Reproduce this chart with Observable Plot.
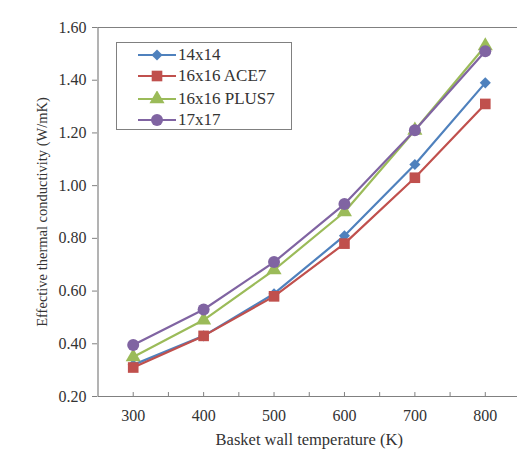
<!DOCTYPE html>
<html>
<head>
<meta charset="utf-8">
<script src="https://cdn.jsdelivr.net/npm/d3@7"></script>
<script src="https://cdn.jsdelivr.net/npm/@observablehq/plot@0.6"></script>
<style>
  html, body { margin: 0; padding: 0; background: #fff; }
  #wrap { position: relative; width: 517px; height: 453px; overflow: hidden; font-family: "Liberation Serif", "Times New Roman", serif; }
  #legend { position: absolute; left: 116px; top: 42px; width: 176px; height: 88px; border: 1px solid #808080; background: #fff; box-sizing: border-box; }
  .item { position: absolute; left: 0; height: 20px; display: flex; align-items: center; font-size: 17px; color: #333; white-space: nowrap; }
  .item svg { margin-left: 21px; margin-right: 2px; }
</style>
</head>
<body>
<div id="wrap"></div>
<script>
const temperatures = [300, 400, 500, 600, 700, 800];
const seriesNames = ["14x14", "16x16 ACE7", "16x16 PLUS7", "17x17"];
const v14x14 = [0.32, 0.43, 0.59, 0.81, 1.08, 1.39];
const vACE7 = [0.31, 0.43, 0.58, 0.78, 1.03, 1.31];
const vPLUS7 = [0.35, 0.49, 0.68, 0.90, 1.21, 1.53];
const v17x17 = [0.395, 0.53, 0.71, 0.93, 1.21, 1.51];
const yTicks = [0.2, 0.4, 0.6, 0.8, 1.0, 1.2, 1.4, 1.6];
const xTicks = [300, 400, 500, 600, 700, 800];
const xMinorTicks = [300, 350, 400, 450, 500, 550, 600, 650, 700, 750, 800];

const colors = ["#4F81BD", "#C0504D", "#9BBB59", "#8064A2"];
const symbols = ["diamond2", "square", "triangle", "circle"];
const radii = [5, 6, 5.6, 6];
const allValues = [v14x14, vACE7, vPLUS7, v17x17];

const rows = [];
seriesNames.forEach((s, i) => temperatures.forEach((t, j) => rows.push({series: s, t, v: allValues[i][j]})));

const marks = [
  Plot.ruleY([1.6], {x1: 250, x2: 860, stroke: "#808080", strokeWidth: 1.2}),
  Plot.ruleY([0.2], {x1: 250, x2: 860, stroke: "#808080", strokeWidth: 1.2}),
  Plot.ruleX([250], {y1: 0.2, y2: 1.6, stroke: "#808080", strokeWidth: 1.2}),
  Plot.ruleX(xMinorTicks, {x: d => d, y1: 0.2, y2: 0.215, stroke: "#808080"}),
  Plot.axisY({ticks: yTicks, tickFormat: d3.format(".2f"), tickSize: 5, tickPadding: 6, fontSize: 16, label: null, stroke: "#808080", color: "#333"}),
  Plot.axisX({ticks: xTicks, tickFormat: d => String(d), tickSize: 0, tickPadding: 13, fontSize: 16, label: null, color: "#333"}),
];
seriesNames.forEach((s, i) => {
  const data = rows.filter(r => r.series === s);
  marks.push(Plot.line(data, {x: "t", y: "v", stroke: colors[i], strokeWidth: 2.2}));
  marks.push(Plot.dot(data, {x: "t", y: "v", fill: colors[i], symbol: () => symbols[i], r: radii[i], stroke: "none"}));
});
marks.push(Plot.text(["Basket wall temperature (K)"], {x: 550, y: 0.2, dy: 43, text: d => d, fontSize: 16.5, fill: "#333"}));
marks.push(Plot.text(["Effective thermal conductivity (W/mK)"], {x: 250, y: 0.9, dx: -56, rotate: -90, text: d => d, fontSize: 14.5, fill: "#333"}));

const chart = Plot.plot({
  width: 517,
  height: 453,
  marginLeft: 97,
  marginTop: 27,
  marginBottom: 57,
  marginRight: 0,
  style: {fontFamily: "'Liberation Serif', 'Times New Roman', serif", background: "#fff", overflow: "visible"},
  x: {type: "linear", domain: [250, 850], range: [97.5, 520]},
  y: {domain: [0.2, 1.6], range: [396, 27]},
  marks
});
const wrap = document.getElementById("wrap");
wrap.appendChild(chart);

const legend = document.createElement("div");
legend.id = "legend";
const tops = [2, 23, 46, 67];
seriesNames.forEach((s, i) => {
  const item = document.createElement("div");
  item.className = "item";
  item.style.top = tops[i] + "px";
  const sym = d3.symbol(
    {diamond2: d3.symbolDiamond2, square: d3.symbolSquare, triangle: d3.symbolTriangle, circle: d3.symbolCircle}[symbols[i]],
    Math.PI * radii[i] * radii[i]
  )();
  item.innerHTML = `<svg width="38" height="16"><line x1="0" y1="8" x2="38" y2="8" stroke="${colors[i]}" stroke-width="2.2"/><path d="${sym}" transform="translate(19,8)" fill="${colors[i]}"/></svg><span>${s}</span>`;
  legend.appendChild(item);
});
wrap.appendChild(legend);
</script>
</body>
</html>
